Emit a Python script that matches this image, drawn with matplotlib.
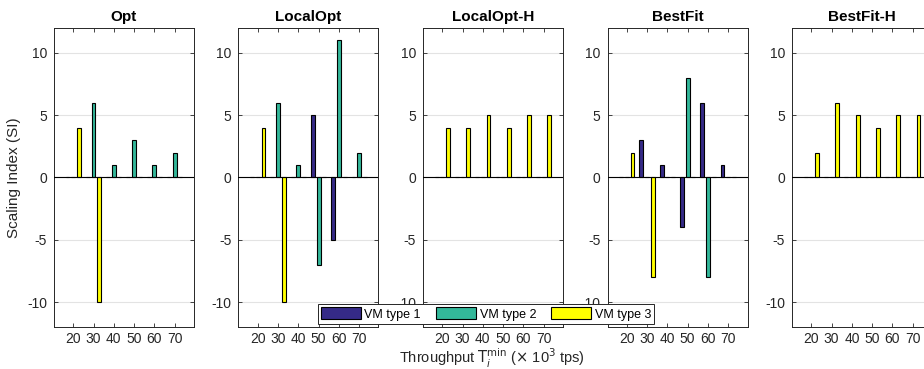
import numpy as np
import matplotlib
matplotlib.use('Agg')
from matplotlib import pyplot as plt
from matplotlib.patches import Patch

plt.rcParams['font.family'] = ['Liberation Sans', 'DejaVu Sans']

throughput = [20, 30, 40, 50, 60, 70]
titles = ['Opt', 'LocalOpt', 'LocalOpt-H', 'BestFit', 'BestFit-H']
series_names = ['VM type 1', 'VM type 2', 'VM type 3']
colors = ['#352A87', '#33B89A', '#FFFF00']

opt = [[0, 0, 0, 0, 0, 0],
       [0, 6, 1, 3, 1, 2],
       [4, -10, 0, 0, 0, 0]]
local_opt = [[0, 0, 0, 5, -5, 0],
             [0, 6, 1, -7, 11, 2],
             [4, -10, 0, 0, 0, 0]]
local_opt_h = [[0, 0, 0, 0, 0, 0],
               [0, 0, 0, 0, 0, 0],
               [4, 4, 5, 4, 5, 5]]
best_fit = [[0, 3, 1, -4, 6, 1],
            [0, 0, 0, 8, -8, 0],
            [2, -8, 0, 0, 0, 0]]
best_fit_h = [[0, 0, 0, 0, 0, 0],
              [0, 0, 0, 0, 0, 0],
              [2, 6, 5, 4, 5, 5]]
all_data = [opt, local_opt, local_opt_h, best_fit, best_fit_h]

fig = plt.figure(figsize=(9.24, 3.69), dpi=100)

x = np.array(throughput)
offsets = [-2.8, 0.0, 2.8]
width = 1.9

for i, (title, data) in enumerate(zip(titles, all_data)):
    ax = fig.add_axes([0.0584 + i * 0.1997, 0.114, 0.1515, 0.810])
    for k in range(3):
        ax.bar(x + offsets[k], data[k], width=width, color=colors[k],
               edgecolor='black', linewidth=0.8, zorder=3)
    ax.axhline(0, color='black', linewidth=0.8, zorder=4)
    ax.set_xlim(10.5, 79.5)
    ax.set_ylim(-12, 12)
    ax.set_xticks(throughput)
    ax.set_yticks([-10, -5, 0, 5, 10])
    ax.set_yticklabels(['-10', '-5', '0', '5', '10'])
    ax.yaxis.grid(True, color='#E3E3E3', linewidth=0.8, zorder=0)
    ax.tick_params(direction='in', top=True, right=True, labelsize=10,
                   length=3, width=0.6, colors='#262626', pad=5)
    ax.tick_params(axis='x', pad=4)
    for s in ax.spines.values():
        s.set_linewidth(0.7)
        s.set_color('#262626')
    ax.set_title(title, fontsize=11, fontweight='bold', pad=5)
    if i == 0:
        ax.set_ylabel('Scaling Index (SI)', fontsize=11, color='#262626',
                      labelpad=4)

fig.text(492 / 924, 1 - 358 / 369,
         r'Throughput $\mathrm{T}_i^{\mathrm{min}}$ ($\times$ 10$^3$ tps)',
         ha='center', va='center', fontsize=10.5, color='#262626')

handles = [Patch(facecolor=c, edgecolor='black', linewidth=0.8) for c in colors]
leg = fig.legend(handles, series_names, loc='center', ncol=3,
                 bbox_to_anchor=(486 / 924, 1 - 314 / 369), fontsize=9,
                 handlelength=3.2, handleheight=1.1, columnspacing=1.2,
                 handletextpad=0.3, borderpad=0.25, fancybox=False,
                 edgecolor='#262626', framealpha=1)
leg.get_frame().set_linewidth(0.7)

fig.savefig('out.png', dpi=100)
